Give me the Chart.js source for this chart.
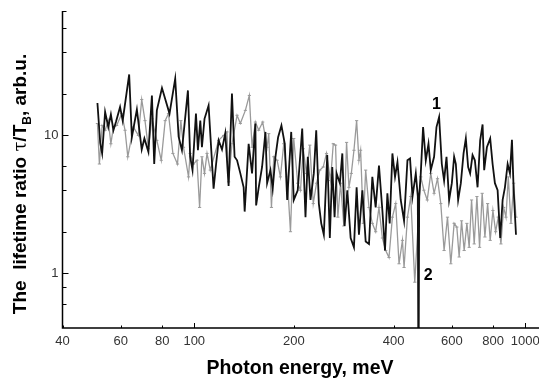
<!DOCTYPE html>
<html>
<head>
<meta charset="utf-8">
<script src="https://cdn.jsdelivr.net/npm/chart.js@4.4.1/dist/chart.umd.min.js"></script>
<style>
  html, body { margin: 0; padding: 0; background: #fff; }
  #wrap { width: 539px; height: 378px; }
</style>
</head>
<body>
<div id="wrap"><canvas id="ratioChart" width="539" height="378"></canvas></div>
<script>
// curve 1 (black)
const blackEnergy = [51, 52, 52.7, 53.8, 55, 56, 57, 58, 59.7, 60.8, 63.6, 64.8, 67.1, 69.4, 70.7, 72.7, 74.5, 75.7, 77.1, 79.9,
  84.2, 87.6, 89.7, 91.8, 95.7, 97.2, 98.8, 101.2, 102.6, 104.3, 105.5, 107.4, 110.5, 114.4, 116.3, 118.5, 121.3, 124.1, 127, 130,
  132.4, 134.7, 137.8, 141, 142, 146, 149.5, 153, 153.8, 156.6, 160.3, 164.1, 166, 169.9, 172.6, 175.9, 179.2, 183.4, 187.7, 190.9,
  196.3, 199.8, 205.4, 211.9, 216.8, 220.3, 224.5, 229.7, 233.6, 237.9, 241.9, 246.3, 252.2, 256.8, 261.2, 265.4, 269.1, 275.4, 280.1, 284.6,
  290, 296.8, 303.7, 309.4, 314.4, 322, 329.5, 337.2, 345.1, 353.2, 361.4, 370.1, 376.9, 383.2, 389.4, 396.8, 404.1, 411, 420.5, 430.3,
  440.6, 448.6, 456.3, 466.9, 473.5, 475.8, 478, 483.4, 491.2, 500.5, 510, 518.2, 530.3, 539.2, 549.1, 559.5, 568.5, 578.1, 588.7, 599.9,
  609.6, 616.9, 626.8, 638.7, 650.9, 661.3, 672, 681.4, 692.9, 704.1, 717.5, 730.6, 743, 751.3, 765.6, 783.4, 796.6, 809.5, 824.8, 840,
  854.2, 868, 884.5, 898.8, 911.4, 922.3, 937.3];
const blackRatio = [17.2, 8.8, 7.4, 14.8, 11.5, 14.2, 10.9, 12.5, 16.1, 12.8, 27.7, 9.7, 15.4, 7.9, 9.5, 7.6, 19.5, 6.2, 15.2, 22.1,
  14.4, 25.8, 9.8, 7.8, 21.2, 7.0, 5.6, 14.4, 7.8, 12.8, 8.2, 13.2, 16.5, 4.1, 6.05, 9.2, 7.9, 10.4, 4.3, 20.1,
  7.0, 6.6, 5.3, 4.2, 2.8, 8.7, 5.3, 12.2, 3.1, 4.2, 5.9, 10.6, 4.5, 5.6, 4.1, 7.0, 9.7, 11.8, 8.7, 3.4,
  10.6, 3.4, 4.0, 11.2, 2.55, 7.0, 3.4, 5.3, 10.9, 3.2, 2.3, 1.9, 7.2, 1.8, 5.9, 2.55, 5.3, 4.5, 7.4, 2.2,
  4.0, 1.8, 1.54, 4.2, 1.9, 4.0, 1.7, 1.63, 5.0, 3.0, 6.05, 2.85, 1.46, 3.8, 2.3, 7.4, 5.0, 6.4, 3.4, 2.4,
  6.6, 6.8, 3.6, 5.3, 3.6, 0.1, 3.6, 5.3, 11.5, 6.6, 8.7, 5.6, 7.0, 11.5, 13.6, 6.2, 4.7, 7.0, 3.4, 4.5,
  7.0, 6.2, 3.4, 4.5, 7.4, 9.5, 5.9, 5.3, 7.2, 6.6, 4.2, 9.2, 12.0, 5.6, 8.2, 9.5, 6.2, 4.5, 4.0, 1.8,
  3.4, 4.2, 6.2, 5.3, 9.3, 4.0, 1.9];

// curve 2 (gray)
const grayEnergy = [51, 51.7, 52.7, 53.8, 55, 56, 57, 58.3, 60.4, 61.8, 63, 65.5, 67.8, 69.4, 71, 72.7, 74.5, 77.1, 79.5, 81.7,
  83.6, 86.2, 89, 91.1, 92.8, 96.1, 97.2, 99.5, 101.9, 103.8, 105.5, 107.4, 109.3, 111.8, 118.5, 122.7, 125.6, 127, 130, 134.7,
  137.8, 142.7, 146.7, 149.5, 153, 156.6, 161, 166, 167.9, 171.1, 173.9, 178, 182.1, 186.4, 190.9, 195.3, 199.8, 205.4, 209.4, 213.4,
  218.3, 223.4, 228.8, 234.1, 239.5, 245.3, 250.9, 258, 263, 267.2, 271.5, 276.7, 283.1, 288.5, 293.3, 298.2, 303.7, 309.4, 314.4, 318.1,
  324.1, 329.5, 337.2, 345.1, 353.2, 361.4, 370.1, 378.7, 387.5, 396.8, 406, 415.5, 425.5, 430.3, 440.6, 450.8, 463.6, 483.4, 493.9, 505.6,
  518.2, 530.3, 543, 555.6, 568.5, 582.1, 595.7, 609.6, 621.2, 631.3, 641.9, 653.7, 666.2, 676.9, 688.2, 700.9, 714.2, 727.6, 740.9, 755.1,
  769.5, 783.4, 798.3, 813.5, 828.4, 844.1, 860.2, 874.2, 888.4, 905.2, 922.3, 937.3];
const grayRatio = [12.2, 6.2, 11.8, 10.9, 12.8, 8.7, 11.5, 11.8, 14.4, 10.9, 7.0, 11.5, 10.0, 18.2, 12.8, 8.0, 13.2, 9.2, 6.6, 12.8,
  14.4, 7.4, 6.2, 12.8, 8.2, 5.0, 7.4, 6.2, 6.6, 3.0, 7.0, 5.3, 7.4, 5.6, 9.2, 10.0, 10.6, 4.6, 8.7, 14.0,
  12.2, 15.2, 19.5, 8.2, 12.5, 10.9, 12.5, 8.2, 10.3, 3.0, 7.0, 6.6, 5.0, 8.7, 5.0, 2.0, 9.5, 4.5, 4.0, 8.0,
  5.3, 8.5, 3.2, 4.5, 5.6, 5.9, 7.4, 4.7, 8.7, 8.5, 2.55, 4.5, 2.2, 8.9, 4.2, 5.3, 7.8, 12.8, 6.6, 7.8,
  2.3, 5.6, 3.0, 2.3, 2.0, 3.0, 1.8, 1.46, 1.3, 2.55, 3.2, 1.17, 1.73, 1.1, 2.55, 3.6, 0.86, 5.0, 4.0, 3.4,
  5.3, 3.8, 4.85, 3.2, 1.46, 2.55, 1.17, 2.3, 2.16, 1.31, 2.4, 1.46, 2.3, 1.54, 3.4, 1.63, 3.6, 1.54, 3.8, 1.83,
  3.2, 1.73, 2.85, 2.0, 2.55, 1.63, 3.0, 2.55, 5.0, 2.3, 4.5, 2.55];

const xTicks = [40, 60, 80, 100, 200, 400, 600, 800, 1000];
const yTicks = [0.6, 0.8, 1, 2, 4, 6, 10, 20, 40, 60, 80];
const yLabelled = [1, 10];
const curveLabels = [
  { text: '1', x: 539, y: 16.8 },
  { text: '2', x: 508.6, y: 0.96 }
];

function toPoints(xs, ys) {
  return xs.map((x, i) => ({ x: x, y: ys[i] }));
}

function isDecade(v) {
  const l = Math.log10(v);
  return Math.abs(l - Math.round(l)) < 1e-9;
}

// axes, inward ticks, titles and curve numbers
const decor = {
  id: 'decor',
  afterDraw(chart) {
    const ctx = chart.ctx;
    const a = chart.chartArea;
    const x = chart.scales.x;
    const y = chart.scales.y;
    ctx.save();
    ctx.strokeStyle = '#000';
    ctx.lineWidth = 1.5;
    ctx.beginPath();
    ctx.moveTo(a.left, a.top);
    ctx.lineTo(a.left, a.bottom);
    ctx.lineTo(a.right, a.bottom);
    ctx.stroke();

    ctx.lineWidth = 1;
    ctx.beginPath();
    xTicks.forEach(v => {
      const px = Math.round(x.getPixelForValue(v)) + 0.5;
      const len = isDecade(v) ? 5 : 2.5;
      ctx.moveTo(px, a.bottom);
      ctx.lineTo(px, a.bottom - len);
    });
    yTicks.forEach(v => {
      const py = Math.round(y.getPixelForValue(v)) + 0.5;
      const len = isDecade(v) ? 6 : 4;
      ctx.moveTo(a.left, py);
      ctx.lineTo(a.left + len, py);
    });
    ctx.stroke();

    // x title
    ctx.fillStyle = '#000';
    ctx.font = 'bold 19.5px "Liberation Sans", Arial, sans-serif';
    ctx.textAlign = 'center';
    ctx.textBaseline = 'alphabetic';
    ctx.fillText('Photon energy, meV', 300, 374);

    // y title with subscript
    const bold = 'bold 19px "Liberation Sans", Arial, sans-serif';
    const parts = [
      { t: 'The  lifetime ratio ', f: bold, dy: 0 },
      { t: 'τ', f: '18px "DejaVu Serif", serif', dy: 0 },
      { t: '/T', f: bold, dy: 0 },
      { t: 'B', f: 'bold 12px "Liberation Sans", Arial, sans-serif', dy: 5 },
      { t: ', arb.u.', f: bold, dy: 0 }
    ];
    let total = 0;
    parts.forEach(p => { ctx.font = p.f; p.w = ctx.measureText(p.t).width; total += p.w; });
    ctx.translate(26, 184);
    ctx.rotate(-Math.PI / 2);
    ctx.textAlign = 'left';
    let cx = -total / 2;
    parts.forEach(p => {
      ctx.font = p.f;
      ctx.fillText(p.t, cx, p.dy);
      cx += p.w;
    });
    ctx.setTransform(1, 0, 0, 1, 0, 0);

    // curve numbers
    ctx.font = 'bold 16px "Liberation Sans", Arial, sans-serif';
    ctx.textAlign = 'center';
    ctx.textBaseline = 'middle';
    curveLabels.forEach(l => {
      ctx.fillText(l.text, x.getPixelForValue(l.x), y.getPixelForValue(l.y));
    });
    ctx.restore();
  }
};

const tickFont = { family: '"Liberation Sans", Arial, sans-serif', size: 13 };

new Chart(document.getElementById('ratioChart').getContext('2d'), {
  type: 'line',
  data: {
    datasets: [{
      label: '1',
      data: toPoints(blackEnergy, blackRatio),
      borderColor: '#111111',
      borderWidth: 1.8,
      pointRadius: 0,
      tension: 0
    }, {
      label: '2',
      data: toPoints(grayEnergy, grayRatio),
      borderColor: '#9a9a9a',
      borderWidth: 1.3,
      pointStyle: 'line',
      pointRadius: 1.6,
      pointBorderColor: '#9a9a9a',
      pointBorderWidth: 1,
      tension: 0
    }]
  },
  options: {
    responsive: false,
    animation: false,
    events: [],
    layout: { autoPadding: false, padding: { top: 11, right: 0, left: 0, bottom: 0 } },
    plugins: {
      legend: { display: false },
      tooltip: { enabled: false }
    },
    scales: {
      x: {
        type: 'logarithmic',
        min: 40,
        max: 1100,
        grid: { display: false, drawTicks: false },
        border: { display: false },
        afterBuildTicks: s => { s.ticks = xTicks.map(v => ({ value: v })); },
        afterFit: s => { s.height = 50; s.paddingLeft = 0; s.paddingRight = 0; },
        ticks: {
          autoSkip: false,
          maxRotation: 0,
          padding: 6,
          color: '#333',
          font: tickFont,
          callback: v => String(v)
        }
      },
      y: {
        type: 'logarithmic',
        min: 0.4,
        max: 80,
        grid: { display: false, drawTicks: false },
        border: { display: false },
        afterBuildTicks: s => { s.ticks = yTicks.map(v => ({ value: v })); },
        afterFit: s => { s.width = 62.5; s.paddingTop = 0; s.paddingBottom = 0; },
        ticks: {
          autoSkip: false,
          padding: 4,
          color: '#333',
          font: tickFont,
          callback: v => (yLabelled.includes(v) ? String(v) : '')
        }
      }
    }
  },
  plugins: [decor]
});
</script>
</body>
</html>
